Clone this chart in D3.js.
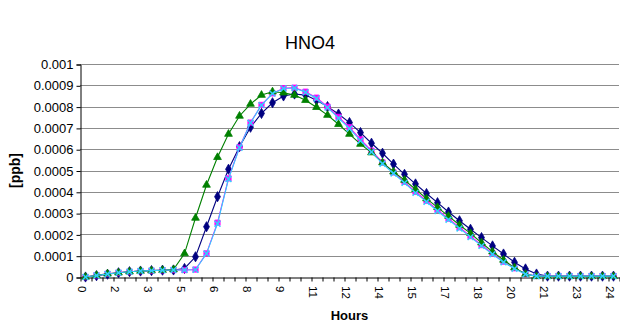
<!DOCTYPE html>
<html>
<head>
<meta charset="utf-8">
<script src="https://cdn.jsdelivr.net/npm/d3@7"></script>
<style>
  html, body { margin: 0; padding: 0; background: #fff; }
  svg { display: block; font-family: "Liberation Sans", Arial, sans-serif; }
</style>
</head>
<body>
<svg id="chart" width="620" height="322"></svg>
<script>
// Model hours, half-hour steps
const hours = [0, 0.5, 1, 1.5, 2, 2.5, 3, 3.5, 4, 4.5, 5, 5.5, 6, 6.5, 7, 7.5, 8, 8.5, 9, 9.5,
  10, 10.5, 11, 11.5, 12, 12.5, 13, 13.5, 14, 14.5, 15, 15.5, 16, 16.5, 17, 17.5, 18, 18.5, 19, 19.5,
  20, 20.5, 21, 21.5, 22, 22.5, 23, 23.5, 24];

// HNO4 mixing ratio [ppb] per run
const runNavy = [0, 0.000006, 0.000013, 0.00002, 0.000025, 0.000028, 0.00003, 0.000032, 0.000033, 0.00004,
  0.000095, 0.000236, 0.000377, 0.000506, 0.000612, 0.000703, 0.000768, 0.000818, 0.00085, 0.000859,
  0.000854, 0.00083, 0.0008, 0.000765, 0.000725, 0.000678, 0.000628, 0.000581, 0.00053, 0.000482,
  0.000437, 0.000392, 0.000349, 0.000305, 0.000264, 0.000224, 0.000185, 0.000146, 0.000108, 0.000069,
  0.000038, 0.000014, 0.000004, 0.000004, 0.000004, 0.000004, 0.000004, 0.000004, 0.000004];

const runMagenta = [0, 0.000008, 0.000015, 0.00002, 0.000025, 0.000028, 0.00003, 0.000032, 0.000033, 0.000033,
  0.000035, 0.000111, 0.000255, 0.000463, 0.000609, 0.000725, 0.000808, 0.000862, 0.000886, 0.000889,
  0.00087, 0.000842, 0.0008, 0.000752, 0.000703, 0.000646, 0.000593, 0.000538, 0.000491, 0.000447,
  0.0004, 0.000358, 0.000315, 0.000274, 0.000233, 0.000192, 0.00015, 0.000111, 0.000072, 0.000041,
  0.000014, 0.000005, 0.000005, 0.000005, 0.000005, 0.000005, 0.000005, 0.000005, 0.000005];

const runGreen = [0, 0.000008, 0.000015, 0.00002, 0.000025, 0.000028, 0.00003, 0.000032, 0.000035, 0.00011,
  0.000277, 0.000432, 0.000562, 0.000671, 0.000756, 0.000812, 0.000854, 0.00087, 0.000865, 0.000854,
  0.00083, 0.000797, 0.00076, 0.000717, 0.000671, 0.000624, 0.000584, 0.000537, 0.000494, 0.000455,
  0.000412, 0.000368, 0.000327, 0.000286, 0.000244, 0.000205, 0.000161, 0.000119, 0.00008, 0.000044,
  0.000014, 0.000003, 0.000003, 0.000003, 0.000003, 0.000003, 0.000003, 0.000003, 0.000003];

const runCyan = [0, 0.000007, 0.000014, 0.00002, 0.000025, 0.000028, 0.00003, 0.000032, 0.000033, 0.000033,
  0.000034, 0.00011, 0.00025, 0.00046, 0.000607, 0.000724, 0.000807, 0.000861, 0.000885, 0.000887,
  0.000867, 0.000838, 0.000795, 0.000746, 0.000697, 0.00064, 0.000587, 0.000532, 0.000486, 0.000442,
  0.000395, 0.000353, 0.00031, 0.000269, 0.000228, 0.000187, 0.000146, 0.000107, 0.000069, 0.000039,
  0.000013, 0.000004, 0.000004, 0.000004, 0.000004, 0.000004, 0.000004, 0.000004, 0.000004];

const yTicks = [0, 0.0001, 0.0002, 0.0003, 0.0004, 0.0005, 0.0006, 0.0007, 0.0008, 0.0009, 0.001];
const yTickLabels = ["0", "0.0001", "0.0002", "0.0003", "0.0004", "0.0005", "0.0006", "0.0007", "0.0008", "0.0009", "0.001"];
const labelEvery = 3;

const series = [
  { name: "navy", values: runNavy, color: "#000080", marker: "diamond" },
  { name: "magenta", values: runMagenta, color: "#ff00ff", marker: "square" },
  { name: "green", values: runGreen, color: "#008000", marker: "triangle" },
  { name: "cyan", values: runCyan, color: "#33ccff", marker: "cross" }
];

const svg = d3.select("#chart");
const plot = { left: 80, right: 619, top: 64, bottom: 277 };

const x = d3.scaleLinear().domain([-0.5, hours.length - 0.5]).range([plot.left, plot.right]);
const y = d3.scaleLinear().domain([0, 0.001]).range([plot.bottom, plot.top]);

// Horizontal gridlines
svg.append("g")
  .selectAll("line")
  .data(yTicks.filter(d => d > 0))
  .join("line")
  .attr("x1", plot.left).attr("x2", plot.right)
  .attr("y1", d => Math.round(y(d)) + 0.5).attr("y2", d => Math.round(y(d)) + 0.5)
  .attr("stroke", "#8c8c8c").attr("stroke-width", 1);

// Y axis
const yAxis = d3.axisLeft(y)
  .tickValues(yTicks)
  .tickFormat((d, i) => yTickLabels[i])
  .tickSize(4)
  .tickPadding(3);
const gy = svg.append("g").attr("transform", `translate(${plot.left + 0.5},0.5)`).call(yAxis);
gy.select(".domain").attr("stroke", "#000");
gy.selectAll(".tick line").attr("stroke", "#000");
gy.selectAll(".tick text").attr("font-size", 13).attr("fill", "#000")
  .attr("font-family", "Liberation Sans, Arial, sans-serif");

// X axis: ticks between categories, labels on every third category
const boundaries = d3.range(-0.5, hours.length, 1);
const xAxis = d3.axisBottom(x).tickValues(boundaries).tickFormat("").tickSize(4).tickSizeOuter(0);
const gx = svg.append("g").attr("transform", `translate(0.5,${plot.bottom + 0.5})`).call(xAxis);
gx.select(".domain").attr("stroke", "#000");
gx.selectAll(".tick line").attr("stroke", "#000");

svg.append("g")
  .selectAll("text")
  .data(hours.map((h, i) => ({ h, i })).filter(d => d.i % labelEvery === 0))
  .join("text")
  .attr("transform", d => `translate(${x(d.i) - 4},${plot.bottom + 9}) rotate(90)`)
  .attr("font-size", 11.5)
  .attr("text-anchor", "start")
  .attr("dominant-baseline", "middle")
  .text(d => d3.format(".0f")(d.h));

// Series lines and markers
const line = d3.line().x((d, i) => x(i)).y(d => y(d));

const markerPath = {
  diamond: d3.symbol().type(d3.symbolDiamond).size(30)(),
  square: d3.symbol().type(d3.symbolSquare).size(28)(),
  triangle: d3.symbol().type(d3.symbolTriangle).size(26)(),
  cross: d3.symbol().type(d3.symbolTimes).size(24)()
};

series.forEach(s => {
  const g = svg.append("g");
  g.append("path")
    .datum(s.values)
    .attr("d", line)
    .attr("fill", "none")
    .attr("stroke", s.color)
    .attr("stroke-width", 1.1);
  g.selectAll("path.m")
    .data(s.values)
    .join("path")
    .attr("class", "m")
    .attr("d", markerPath[s.marker])
    .attr("transform", (d, i) => `translate(${x(i)},${y(d)})`)
    .attr("fill", s.marker === "cross" ? "none" : s.color)
    .attr("stroke", s.color)
    .attr("stroke-width", s.marker === "cross" ? 1.5 : 0.8);
});

// Titles
svg.append("text")
  .attr("x", 310).attr("y", 49)
  .attr("text-anchor", "middle")
  .attr("font-size", 18)
  .text("HNO4");

svg.append("text")
  .attr("transform", `translate(20,${(plot.top + plot.bottom) / 2}) rotate(-90)`)
  .attr("text-anchor", "middle")
  .attr("font-size", 14)
  .attr("font-weight", "bold")
  .text("[ppb]");

svg.append("text")
  .attr("x", (plot.left + plot.right) / 2).attr("y", 320)
  .attr("text-anchor", "middle")
  .attr("font-size", 13)
  .attr("font-weight", "bold")
  .text("Hours");
</script>
</body>
</html>
